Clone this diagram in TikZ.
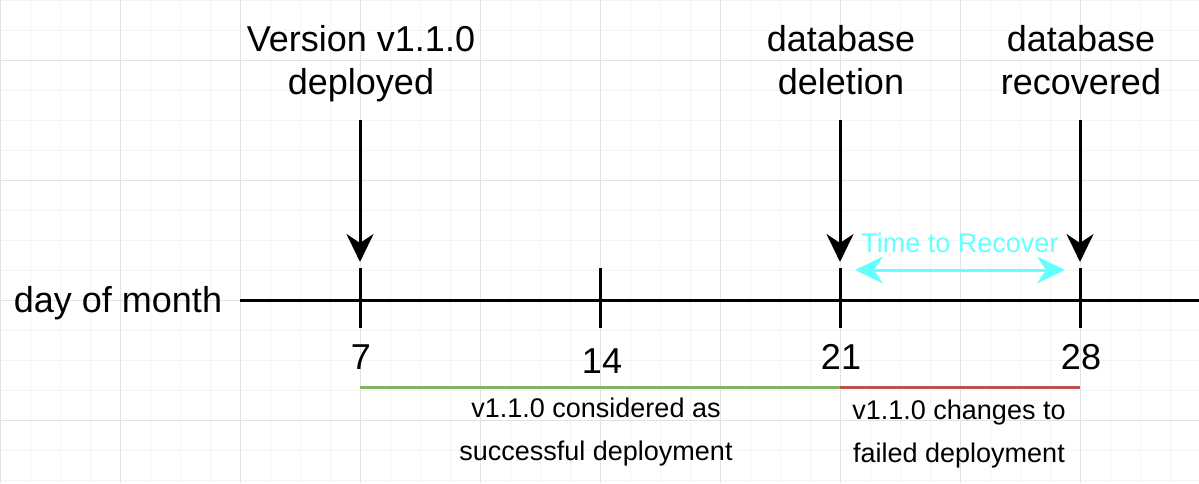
\documentclass[tikz,border=0pt]{standalone}
\usepackage{fontspec}
\setmainfont{Liberation Sans}
\usetikzlibrary{arrows.meta}
\definecolor{gridminor}{HTML}{F4F4F4}
\definecolor{gridmajor}{HTML}{E2E2E2}
\definecolor{ttrcyan}{HTML}{66FFFF}
\definecolor{okgreen}{HTML}{82B366}
\definecolor{badred}{HTML}{B85450}
\tikzset{
  big/.style={font=\fontsize{36}{43}\selectfont, align=center, inner sep=0pt, anchor=base},
  small/.style={font=\fontsize{27}{43}\selectfont, align=center, inner sep=0pt, anchor=base},
  axisline/.style={line width=3pt, black},
  tickline/.style={line width=3pt, black},
  eventarrow/.style={line width=3pt, black, -{Stealth[length=28pt,width=27pt,inset=9pt]}},
  ttrarrow/.style={line width=3pt, ttrcyan, {Stealth[length=28pt,width=27pt,inset=9pt]}-{Stealth[length=28pt,width=27pt,inset=9pt]}},
  spanline/.style={line width=3pt},
}
\begin{document}
\begin{tikzpicture}[x=1pt,y=-1pt]
\useasboundingbox (0,0) rectangle (1199,483);
\fill[white] (0,0) rectangle (1199,483);
% grid
\foreach \x in {0,30,...,1199} \draw[gridminor, line width=1pt] (\x,0) -- (\x,483);
\foreach \y in {0,30,...,483} \draw[gridminor, line width=1pt] (0,\y) -- (1199,\y);
\foreach \x in {0,120,...,1199} \draw[gridmajor, line width=1pt] (\x,0) -- (\x,483);
\foreach \y in {60,180,...,483} \draw[gridmajor, line width=1pt] (0,\y) -- (1199,\y);

% labels on top (base anchor = last line's baseline)
\node[big] (lv) at (361,94) {Version v1.1.0\\deployed};
\node[big] (ld) at (841,94) {database\\deletion};
\node[big] (lr) at (1081,94) {database\\recovered};

% axis
\node[big] (lday) at (118,312) {day of month};
\coordinate (axL) at (240,300);
\coordinate (axR) at (1199,300);
\draw[axisline] (axL) -- (axR);

% ticks
\foreach \n/\x in {7/360,14/600,21/840,28/1080} {
  \coordinate (tt\n) at (\x,268);
  \coordinate (tb\n) at (\x,328);
  \draw[tickline] (tt\n) -- (tb\n);
}

% tick numbers
\node[big] (n7) at (361,369) {7};
\node[big] (n14) at (602,373) {14};
\node[big] (n21) at (841,369) {21};
\node[big] (n28) at (1081,369) {28};

% event arrows
\coordinate (as7) at (360,120);
\coordinate (ae7) at (360,262);
\coordinate (as21) at (840,120);
\coordinate (ae21) at (840,262);
\coordinate (as28) at (1080,120);
\coordinate (ae28) at (1080,262);
\draw[eventarrow] (as7) -- (ae7);
\draw[eventarrow] (as21) -- (ae21);
\draw[eventarrow] (as28) -- (ae28);

% time to recover
\coordinate (ttrL) at (855,270);
\coordinate (ttrR) at (1065,270);
\draw[ttrarrow] (ttrL) -- (ttrR);
\node[small, text=ttrcyan] (ttr) at (960,252) {Time to Recover};

% spans
\coordinate (g1) at (360,387);
\coordinate (g2) at (840,387);
\coordinate (r2) at (1080,387);
\draw[spanline, okgreen] (g1) -- (g2);
\draw[spanline, badred] (g2) -- (r2);
\node[small] (ok) at (596,460) {v1.1.0 considered as\\successful deployment};
\node[small] (bad) at (959,462) {v1.1.0 changes to\\failed deployment};
\end{tikzpicture}
\end{document}
